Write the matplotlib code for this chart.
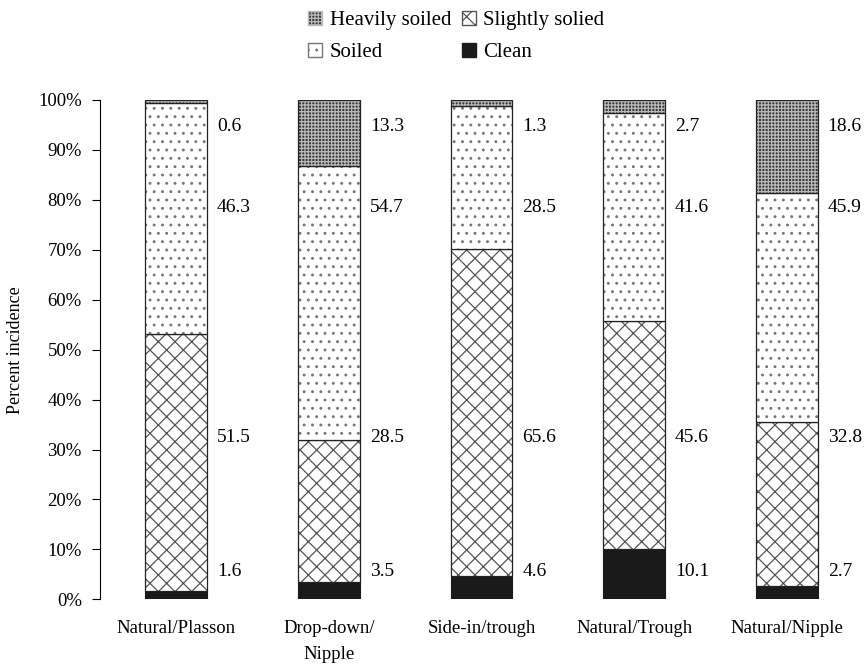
import numpy as np
import matplotlib
matplotlib.use("Agg")
import matplotlib.pyplot as plt
from matplotlib.ticker import PercentFormatter
from matplotlib.patches import Patch

plt.rcParams['font.family'] = ['Liberation Serif', 'DejaVu Serif']
plt.rcParams['hatch.linewidth'] = 0.9

systems = ["Natural/Plasson", "Drop-down/\nNipple", "Side-in/trough", "Natural/Trough", "Natural/Nipple"]
clean = [1.6, 3.5, 4.6, 10.1, 2.7]
slightly = [51.5, 28.5, 65.6, 45.6, 32.8]
soiled = [46.3, 54.7, 28.5, 41.6, 45.9]
heavy = [0.6, 13.3, 1.3, 2.7, 18.6]

fig, ax = plt.subplots(figsize=(8.64, 6.66), dpi=100)
fig.subplots_adjust(left=0.1157, right=0.999, top=0.85, bottom=0.1)

x = np.arange(len(systems))
w = 0.405
b1 = np.array(clean)
b2 = b1 + np.array(slightly)
b3 = b2 + np.array(soiled)

ax.bar(x, clean, w, color='#1a1a1a', edgecolor='#1a1a1a', lw=0.8)
ax.bar(x, slightly, w, bottom=b1, color='white', edgecolor='#555555', hatch='xx', lw=0)
ax.bar(x, slightly, w, bottom=b1, fill=False, edgecolor='#222222', lw=0.9)
ax.bar(x, soiled, w, bottom=b2, color='white', edgecolor='#777777', hatch='..', lw=0)
ax.bar(x, soiled, w, bottom=b2, fill=False, edgecolor='#222222', lw=0.9)
ax.bar(x, heavy, w, bottom=b3, color='#3a3a3a', edgecolor='#bbbbbb', hatch='+++++', lw=0)
ax.bar(x, heavy, w, bottom=b3, fill=False, edgecolor='#222222', lw=0.9)

label_y = [5.6, 32.4, 78.4, 94.6]
for series, yy in zip([clean, slightly, soiled, heavy], label_y):
    for xi, v in zip(x, series):
        ax.text(xi + w / 2 + 0.065, yy, f"{v}", ha='left', va='center', fontsize=14)

ax.set_xlim(-0.5, len(systems) - 0.5)
ax.set_ylim(0, 100)
ax.yaxis.set_major_formatter(PercentFormatter(decimals=0))
ax.set_yticks(np.arange(0, 101, 10))
ax.set_xticks(x)
ax.set_xticklabels(systems, fontsize=13.5, linespacing=1.7)
ax.tick_params(axis='x', length=0, pad=15)
ax.tick_params(axis='y', labelsize=13.5, length=6, pad=7)
ax.set_ylabel("Percent incidence", fontsize=13, labelpad=10)
for s in ['top', 'right', 'bottom']:
    ax.spines[s].set_visible(False)

handles = [
    Patch(facecolor='#3a3a3a', edgecolor='#bbbbbb', hatch='+++++', label='Heavily soiled'),
    Patch(facecolor='white', edgecolor='#777777', hatch='..', label='Soiled'),
    Patch(facecolor='white', edgecolor='#555555', hatch='xx', label='Slightly solied'),
    Patch(facecolor='#1a1a1a', edgecolor='#1a1a1a', label='Clean'),
]
fig.legend(handles=handles, ncol=2, loc='upper center', bbox_to_anchor=(0.528, 1.012),
           frameon=False, fontsize=15, handlelength=0.7, handleheight=0.7,
           handletextpad=0.35, columnspacing=0.5, labelspacing=0.6)

fig.savefig("out.png", dpi=100)
